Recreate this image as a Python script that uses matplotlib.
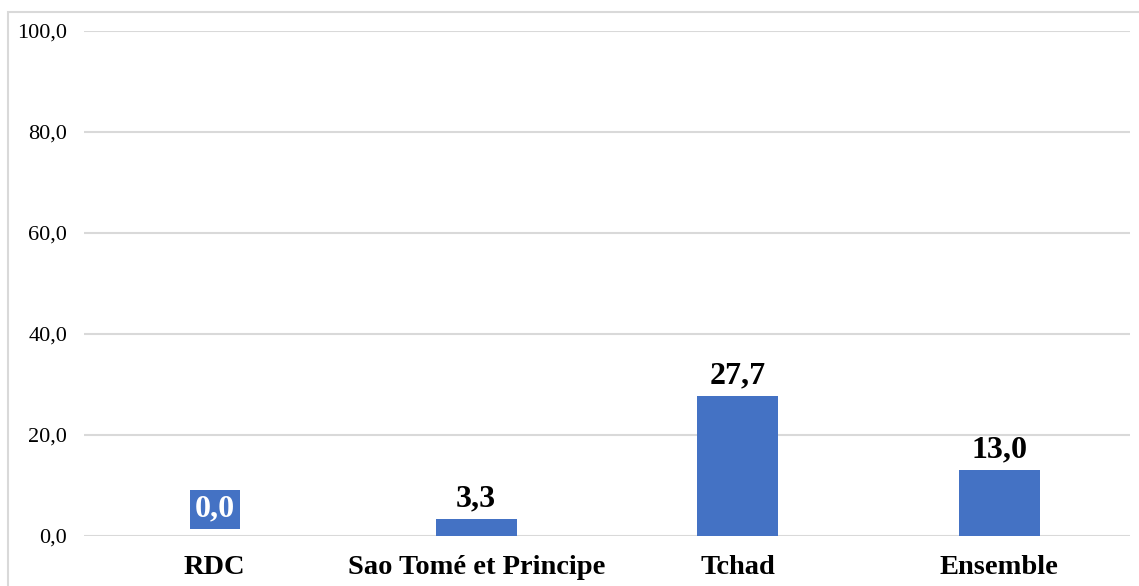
import matplotlib
matplotlib.use("Agg")
import matplotlib.pyplot as plt
import matplotlib.patches as patches
import numpy as np

categories = ["RDC", "Sao Tomé et Principe", "Tchad", "Ensemble"]
values = [0.0, 3.3, 27.7, 13.0]
yticks = [0, 20, 40, 60, 80, 100]

blue = "#4472c4"
grid = "#d9d9d9"

plt.rcParams['font.family'] = ['Liberation Serif', 'DejaVu Serif']

fig = plt.figure(figsize=(11.39, 5.86), dpi=100)
# outer chart border
fig.patches.append(patches.Rectangle((8/1139, -0.01), 1.0, 1 - 12/586 + 0.01,
                                     transform=fig.transFigure, fill=False,
                                     edgecolor=grid, linewidth=1.5))

ax = fig.add_axes([84/1139, 1 - 536/586, (1130 - 84)/1139, (536 - 31)/586])
x = np.arange(len(categories))
bars = ax.bar(x, values, width=0.31, color=blue, zorder=3)

ax.set_xlim(-0.5, len(categories) - 0.5)
ax.set_ylim(0, 100)
ax.set_yticks(yticks)
ax.set_yticklabels([("%.1f" % v).replace(".", ",") for v in yticks], fontsize=16)
ax.set_xticks(x)
ax.set_xticklabels(categories, fontsize=20.5, fontweight='bold')
ax.tick_params(axis='both', length=0)
ax.tick_params(axis='x', pad=14)
ax.tick_params(axis='y', pad=12)
ax.yaxis.grid(True, color=grid, linewidth=1.5, zorder=0)
for s in ax.spines.values():
    s.set_visible(False)
ax.set_axisbelow(True)

for xi, v in zip(x, values):
    lab = ("%.1f" % v).replace(".", ",")
    if v == 0:
        ax.text(xi, 2.4, lab, ha='center', va='bottom', fontsize=23,
                fontweight='bold', color='white',
                bbox=dict(facecolor=blue, edgecolor='none', pad=3.5))
    else:
        ax.text(xi, v + 1.2, lab, ha='center', va='bottom', fontsize=23,
                fontweight='bold', color='black')

fig.savefig("out.png", dpi=100)
